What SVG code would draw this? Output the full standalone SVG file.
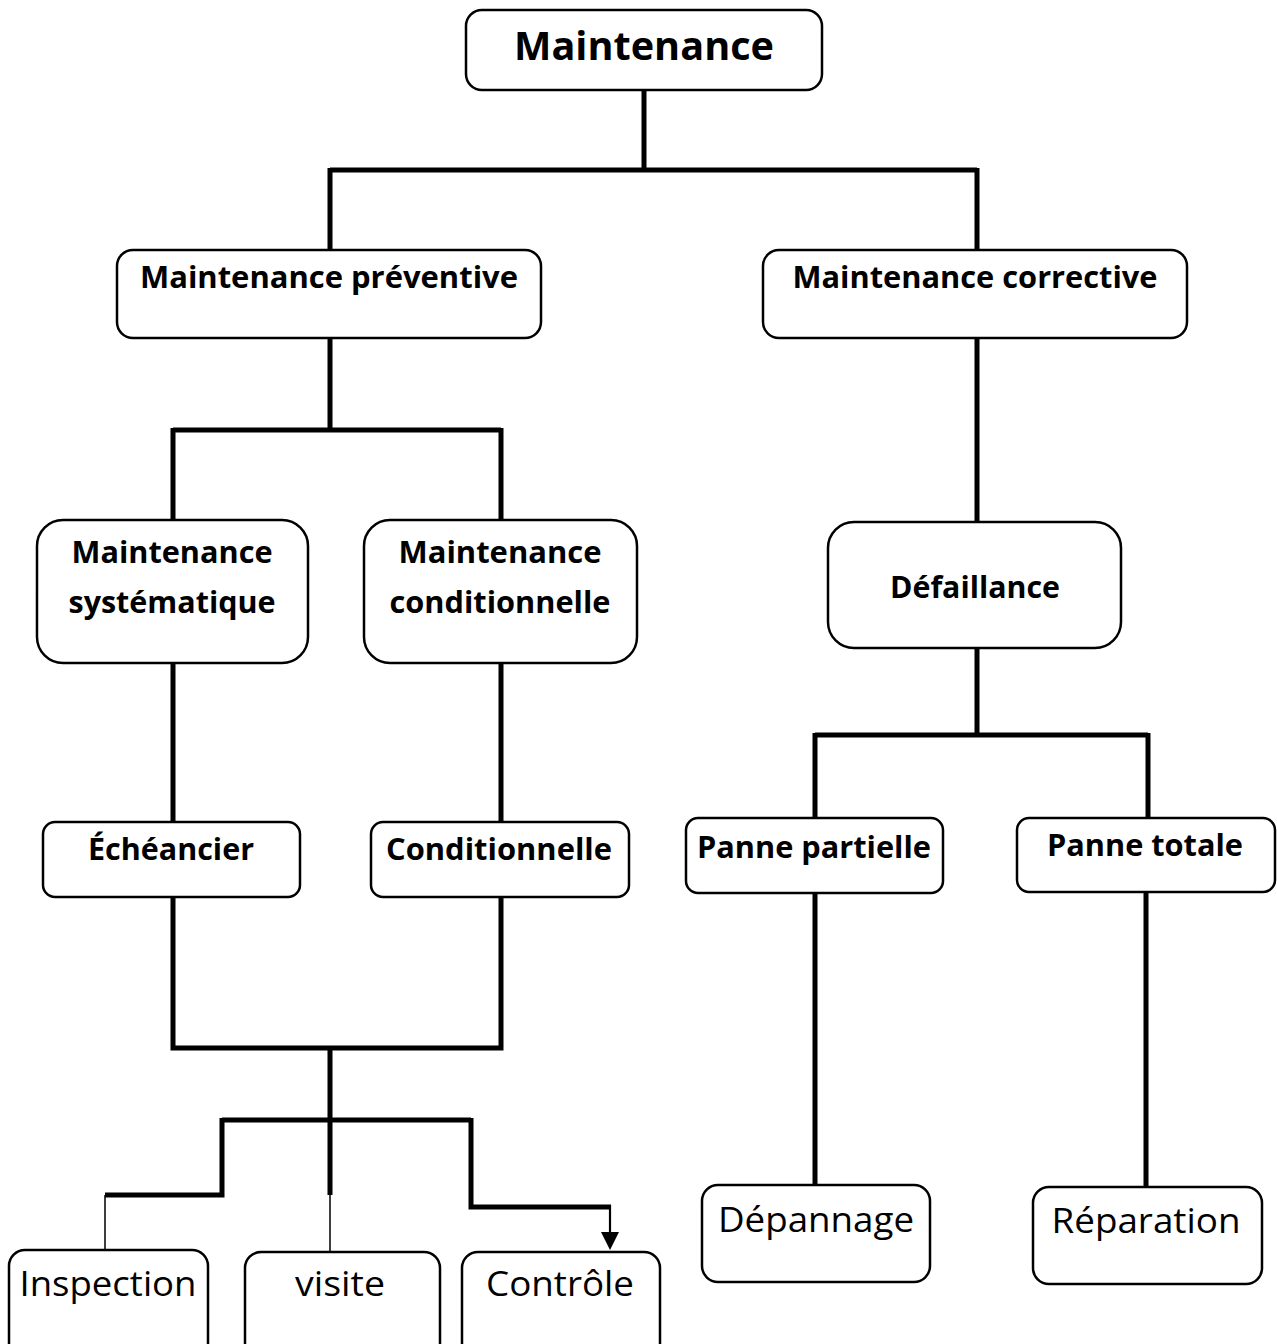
<svg xmlns="http://www.w3.org/2000/svg" width="1277" height="1344" viewBox="0 0 1277 1344">
<defs>
<style>
.box{fill:#fff;stroke:#000;stroke-width:2.5}
.b{font-family:"Open Sans","Noto Sans",sans-serif;font-weight:bold;text-anchor:middle;fill:#000}
.r{font-family:"Open Sans","Noto Sans",sans-serif;text-anchor:middle;fill:#000}
.th{fill:none;stroke:#000;stroke-width:5}
.tn{fill:none;stroke:#000;stroke-width:1.5}
</style>
</defs>
<rect width="1277" height="1344" fill="#fff"/>
<g id="connectors">
<path class="th" d="M644,91 V170 M330,170 H977 M330,168 V250 M977,168 V250"/>
<path class="th" d="M330,338 V430 M173,430 H501 M173,428 V520 M501,428 V520"/>
<path class="th" d="M173,663 V822 M501,663 V822"/>
<path class="th" d="M173,897 V1048 H501 V897 M330,1048 V1120 M222,1120 H471 M222,1118 V1195 H105 M330,1118 V1195 M471,1118 V1207 H611"/>
<path class="tn" d="M105,1195 V1250 M330,1195 V1252"/>
<path d="M610,1205 V1234" fill="none" stroke="#000" stroke-width="2.2"/>
<path d="M601,1232 L619,1232 L610,1250 Z" fill="#000"/>
<path class="th" d="M977,338 V522 M977,648 V735 M815,735 H1148 M815,733 V818 M1148,733 V818"/>
<path class="th" d="M815,893 V1185 M1146,892 V1187"/>
</g>
<g id="n-maintenance">
<rect class="box" x="466" y="10" width="356" height="80" rx="16"/>
<text class="b" x="644" y="60" font-size="39" textLength="260" lengthAdjust="spacingAndGlyphs">Maintenance</text>
</g>
<g id="n-preventive">
<rect class="box" x="117" y="250" width="424" height="88" rx="16"/>
<text class="b" x="329" y="288" font-size="29.5" textLength="378" lengthAdjust="spacingAndGlyphs">Maintenance préventive</text>
</g>
<g id="n-corrective">
<rect class="box" x="763" y="250" width="424" height="88" rx="16"/>
<text class="b" x="975" y="288" font-size="29.5" textLength="365" lengthAdjust="spacingAndGlyphs">Maintenance corrective</text>
</g>
<g id="n-systematique">
<rect class="box" x="37" y="520" width="271" height="143" rx="26"/>
<text class="b" x="172" y="563" font-size="29.5" textLength="201" lengthAdjust="spacingAndGlyphs">Maintenance</text>
<text class="b" x="172" y="613" font-size="29.5" textLength="207" lengthAdjust="spacingAndGlyphs">systématique</text>
</g>
<g id="n-conditionnelle-m">
<rect class="box" x="364" y="520" width="273" height="143" rx="26"/>
<text class="b" x="500" y="563" font-size="29.5" textLength="203" lengthAdjust="spacingAndGlyphs">Maintenance</text>
<text class="b" x="500" y="613" font-size="29.5" textLength="221" lengthAdjust="spacingAndGlyphs">conditionnelle</text>
</g>
<g id="n-echeancier">
<rect class="box" x="43" y="822" width="257" height="75" rx="12"/>
<text class="b" x="171" y="860" font-size="29.5" textLength="166" lengthAdjust="spacingAndGlyphs">Échéancier</text>
</g>
<g id="n-conditionnelle">
<rect class="box" x="371" y="822" width="258" height="75" rx="12"/>
<text class="b" x="499" y="860" font-size="29.5" textLength="226" lengthAdjust="spacingAndGlyphs">Conditionnelle</text>
</g>
<g id="n-defaillance">
<rect class="box" x="828" y="522" width="293" height="126" rx="26"/>
<text class="b" x="975" y="598" font-size="29.5" textLength="170" lengthAdjust="spacingAndGlyphs">Défaillance</text>
</g>
<g id="n-panne-partielle">
<rect class="box" x="686" y="818" width="257" height="75" rx="12"/>
<text class="b" x="814" y="858" font-size="29.5" textLength="234" lengthAdjust="spacingAndGlyphs">Panne partielle</text>
</g>
<g id="n-panne-totale">
<rect class="box" x="1017" y="818" width="258" height="74" rx="12"/>
<text class="b" x="1145" y="856" font-size="29.5" textLength="196" lengthAdjust="spacingAndGlyphs">Panne totale</text>
</g>
<g id="n-depannage">
<rect class="box" x="702" y="1185" width="228" height="97" rx="16"/>
<text class="r" x="816" y="1232" font-size="35" textLength="196" lengthAdjust="spacingAndGlyphs">Dépannage</text>
</g>
<g id="n-reparation">
<rect class="box" x="1033" y="1187" width="229" height="97" rx="16"/>
<text class="r" x="1146" y="1233" font-size="35" textLength="189" lengthAdjust="spacingAndGlyphs">Réparation</text>
</g>
<g id="n-inspection">
<rect class="box" x="9" y="1250" width="199" height="110" rx="16"/>
<text class="r" x="108" y="1296" font-size="35" textLength="177" lengthAdjust="spacingAndGlyphs">Inspection</text>
</g>
<g id="n-visite">
<rect class="box" x="245" y="1252" width="195" height="110" rx="16"/>
<text class="r" x="340" y="1296" font-size="35" textLength="90" lengthAdjust="spacingAndGlyphs">visite</text>
</g>
<g id="n-controle">
<rect class="box" x="462" y="1252" width="198" height="110" rx="16"/>
<text class="r" x="560" y="1296" font-size="35" textLength="148" lengthAdjust="spacingAndGlyphs">Contrôle</text>
</g>
</svg>
